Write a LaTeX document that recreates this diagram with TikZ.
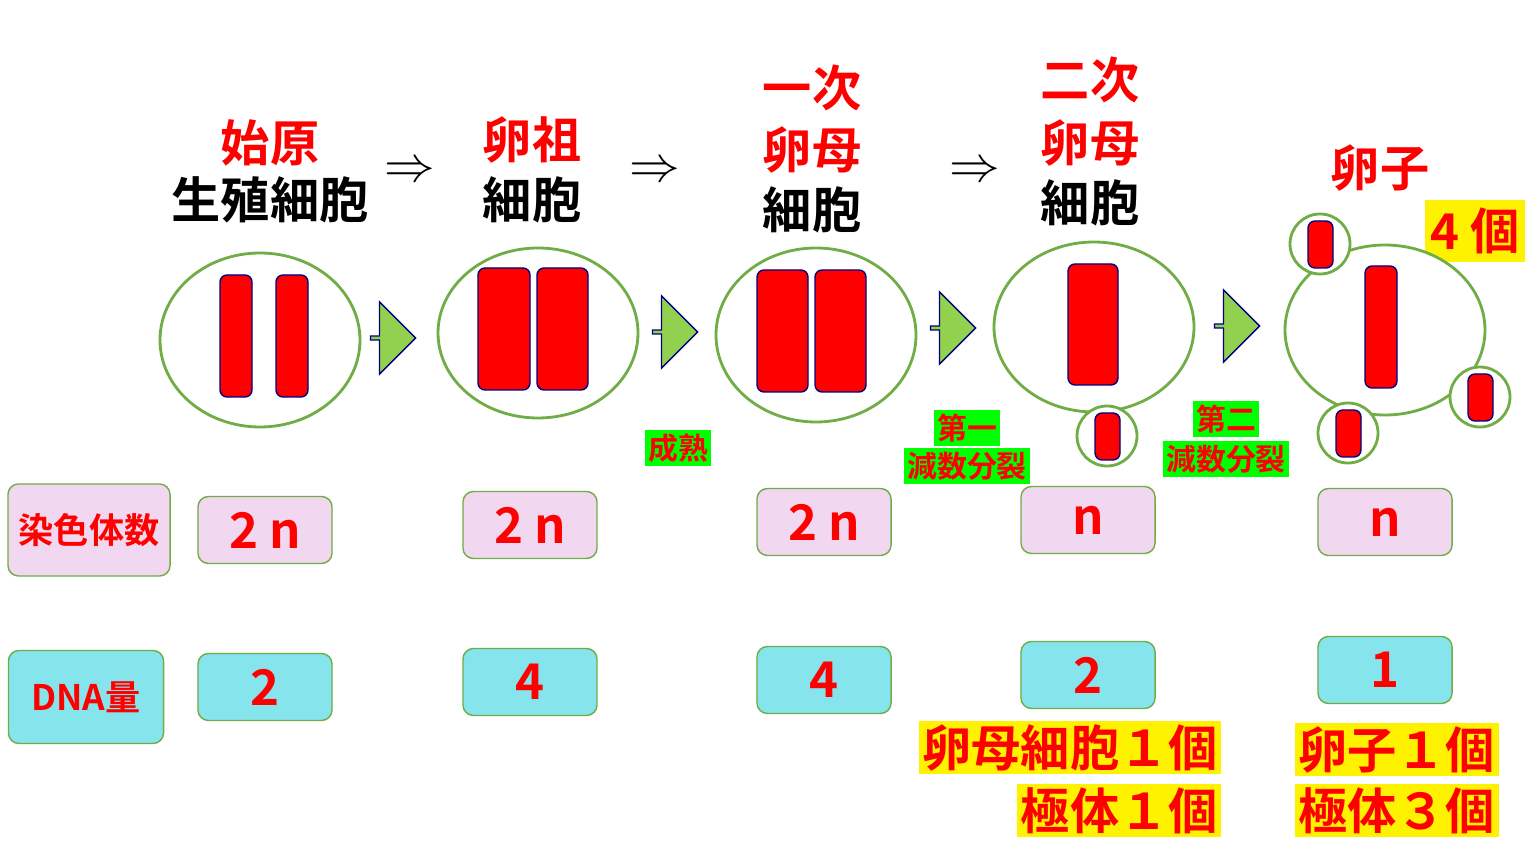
\documentclass[tikz,border=0pt]{standalone}
\usepackage{fontspec}
\setmainfont{Noto Sans CJK JP}
\newfontfamily\jp{Noto Sans CJK JP}[BoldFont={* Bold}]
\usetikzlibrary{shapes.arrows}
\definecolor{cellgreen}{HTML}{70AD47}
\definecolor{arrgreen}{HTML}{92D050}
\definecolor{pinkbox}{HTML}{F2D7F0}
\definecolor{cyanbox}{HTML}{86E4EC}
\tikzset{
  ttl/.style={font=\jp\bfseries\fontsize{14}{16}\selectfont, inner sep=0pt},
  cell/.style={draw=cellgreen, thick, fill=white},
  chrom/.style={fill=red, draw=blue!50!black, rounded corners=2pt},
  fwd/.style={single arrow, fill=arrgreen, draw=blue!50!black, minimum width=0.72cm, minimum height=0.45cm, single arrow head extend=0.12cm, inner sep=0pt},
  tag/.style={fill=green, text=red, font=\jp\bfseries\fontsize{8.5}{9}\selectfont, inner sep=1pt},
  val/.style={draw=cellgreen, rounded corners=3pt, minimum width=1.34cm, minimum height=0.67cm, font=\jp\bfseries\fontsize{14}{16}\selectfont, inner sep=0pt},
  note/.style={fill=yellow, text=red, font=\jp\bfseries\fontsize{14}{16}\selectfont, inner sep=1pt}
}
\begin{document}
\begin{tikzpicture}[x=0.01cm, y=-0.01cm]
\useasboundingbox (0,0) rectangle (1536,864);

% titles
\node[ttl, red] (t1a) at (270,143) {始原};
\node[ttl] (t1b) at (270,200) {生殖細胞};
\node[ttl, red] (t2a) at (532,140) {卵祖};
\node[ttl] (t2b) at (532,200) {細胞};
\node[ttl, red] (t3a) at (812,88) {一次};
\node[ttl, red] (t3b) at (812,150) {卵母};
\node[ttl] (t3c) at (812,210) {細胞};
\node[ttl, red] (t4a) at (1090,80) {二次};
\node[ttl, red] (t4b) at (1090,143) {卵母};
\node[ttl] (t4c) at (1090,203) {細胞};
\node[ttl, red] (t5a) at (1380,168) {卵子};
\node[ttl] (i1) at (410,172) {$\Rightarrow$};
\node[ttl] (i2) at (655,172) {$\Rightarrow$};
\node[ttl] (i3) at (975,172) {$\Rightarrow$};
\node[note, minimum width=1cm, minimum height=0.62cm] (four) at (1475,231) {4 個};

% cells
\draw[cell] (260,340) ellipse (100 and 87);
\draw[chrom] (220,275) rectangle (252,397);
\draw[chrom] (276,275) rectangle (308,397);
\draw[cell] (538,333) ellipse (100 and 85);
\draw[chrom] (478,268) rectangle (530,390);
\draw[chrom] (537,268) rectangle (588,390);
\draw[cell] (816,335) ellipse (100 and 87);
\draw[chrom] (757,270) rectangle (808,392);
\draw[chrom] (815,270) rectangle (866,392);
\draw[cell] (1094,327) ellipse (100 and 85);
\draw[chrom] (1068,264) rectangle (1118,385);
\draw[cell] (1107,436) circle (30);
\draw[chrom] (1095,413) rectangle (1120,460);
\draw[cell] (1385,330) ellipse (100 and 85);
\draw[chrom] (1365,266) rectangle (1397,388);
\foreach \cx/\cy in {1320/244, 1480/397, 1348/433} {
  \draw[cell] (\cx,\cy) circle (30);
  \draw[chrom] (\cx-12,\cy-23) rectangle (\cx+13,\cy+24);
}

% steps
\node[fwd] (s1) at (392,338) {};
\node[fwd] (s2) at (674,332) {};
\node[fwd] (s3) at (952,328) {};
\node[fwd] (s4) at (1236,326) {};
\node[tag] (m1) at (678,448) {成熟};
\node[tag] (m2) at (967,428) {第一};
\node[tag] (m3) at (967,466) {減数分裂};
\node[tag] (m4) at (1226,419) {第二};
\node[tag] (m5) at (1226,459) {減数分裂};

% chromosome numbers
\node[val, fill=pinkbox, text=red, minimum width=1.62cm, minimum height=0.92cm, font=\jp\bfseries\fontsize{10}{12}\selectfont] (k0) at (89,530) {染色体数};
\node[val, fill=pinkbox, text=red] (k1) at (265,530) {2 n};
\node[val, fill=pinkbox, text=red] (k2) at (530,525) {2 n};
\node[val, fill=pinkbox, text=red] (k3) at (824,522) {2 n};
\node[val, fill=pinkbox, text=red] (k4) at (1088,520) {n};
\node[val, fill=pinkbox, text=red] (k5) at (1385,522) {n};

% DNA
\node[val, fill=cyanbox, text=red, minimum width=1.55cm, minimum height=0.93cm, font=\jp\bfseries\fontsize{10}{12}\selectfont] (d0) at (86,697) {DNA量};
\node[val, fill=cyanbox, text=red] (d1) at (265,687) {2};
\node[val, fill=cyanbox, text=red] (d2) at (530,682) {4};
\node[val, fill=cyanbox, text=red] (d3) at (824,680) {4};
\node[val, fill=cyanbox, text=red] (d4) at (1088,675) {2};
\node[val, fill=cyanbox, text=red] (d5) at (1385,670) {1};

% counts
\node[note, anchor=north east] (n1) at (1222,720) {卵母細胞１個};
\node[note, anchor=north east] (n2) at (1222,783) {極体１個};
\node[note, anchor=north west] (n3) at (1294,722) {卵子１個};
\node[note, anchor=north west] (n4) at (1294,783) {極体３個};
\end{tikzpicture}
\end{document}
